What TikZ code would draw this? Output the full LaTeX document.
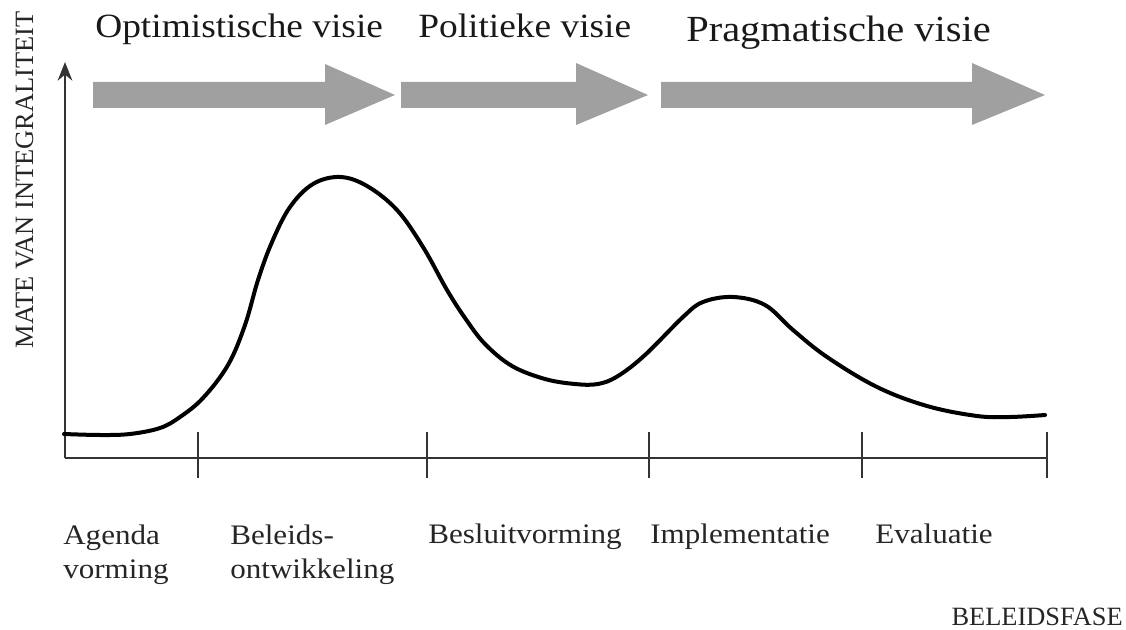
\documentclass[tikz,border=0pt]{standalone}
\usepackage{fontspec}
\setmainfont{Liberation Serif}
\newfontfamily\widefont{Liberation Serif}[FakeStretch=1.1]
\usetikzlibrary{arrows.meta}
\definecolor{arrowgray}{HTML}{A0A0A0}
\definecolor{axisgray}{HTML}{333333}
\tikzset{
  titletext/.style={anchor=base west, inner sep=0pt, font=\widefont\fontsize{25.5pt}{30pt}\selectfont, text=black!90},
  phasetext/.style={anchor=base west, inner sep=0pt, font=\widefont\fontsize{21.2pt}{25.5pt}\selectfont, text=black!85, align=left},
  axistext/.style={inner sep=0pt, font=\fontsize{19.8pt}{23pt}\selectfont, text=black!85},
  bigarrow/.style={fill=arrowgray, draw=none},
  axisline/.style={draw=axisgray, line width=1.5pt},
  tickline/.style={draw=axisgray, line width=1.1pt},
  curveline/.style={draw=black, line width=3pt, line cap=round}
}
\begin{document}
\begin{tikzpicture}[x=0.75pt, y=-0.75pt]
\useasboundingbox (0,0) rectangle (1126,630);

% grey arrows
\fill[bigarrow] (93,82) -- (325,82) -- (325,64) -- (395,95) -- (325,125) -- (325,108) -- (93,108) -- cycle;
\fill[bigarrow] (401,82) -- (576,82) -- (576,63) -- (648,95) -- (576,125) -- (576,108) -- (401,108) -- cycle;
\fill[bigarrow] (661,82) -- (972,82) -- (972,63) -- (1045,95) -- (972,125) -- (972,108) -- (661,108) -- cycle;

% titles
\node[titletext] (t1) at (95,38) {Optimistische visie};
\node[titletext] (t2) at (418,38) {Politieke visie};
\node[titletext, font=\widefont\fontsize{27.6pt}{32pt}\selectfont] (t3) at (686,42) {Pragmatische visie};

% axes
\coordinate (origin) at (65,458);
\coordinate (ytop) at (65,62);
\coordinate (xend) at (1047,458);
\draw[axisline, -{Stealth[length=14pt, width=11pt]}] (origin) -- (ytop);
\draw[axisline] (origin) -- (xend);
\foreach \x/\n in {198/a,427/b,649/c,862/d,1047/e}{
  \coordinate (tk\n1) at (\x,432);
  \coordinate (tk\n2) at (\x,478);
  \draw[tickline] (tk\n1) -- (tk\n2);
}

% axis labels
\node[axistext, rotate=90, anchor=base] (ylab) at (33,180) {MATE VAN INTEGRALITEIT};
\node[axistext, anchor=base east] (xlab) at (1123,625) {BELEIDSFASE};

% phase labels
\node[phasetext] (p1) at (63,578) {Agenda\\vorming};
\node[phasetext] (p2) at (230,578) {Beleids-\\ontwikkeling};
\node[phasetext] (p3) at (428,543) {Besluitvorming};
\node[phasetext] (p4) at (650,543) {Implementatie};
\node[phasetext] (p5) at (875,543) {Evaluatie};

% curve
\draw[curveline] plot[smooth, tension=0.6] coordinates {
 (64,434) (100,435) (130,434) (160,428) (180,417) (203,398) (228,365)
 (245,325) (258,280) (272,242) (290,207) (313,184) (340,177) (367,186)
 (397,210) (423,247) (447,290) (465,318) (485,344) (512,366) (545,379)
 (575,384) (598,384) (618,376) (645,355) (683,317) (703,302) (733,297)
 (765,305) (793,330) (827,357) (877,387) (927,406) (977,416) (1010,417) (1045,415)
};
\end{tikzpicture}
\end{document}
